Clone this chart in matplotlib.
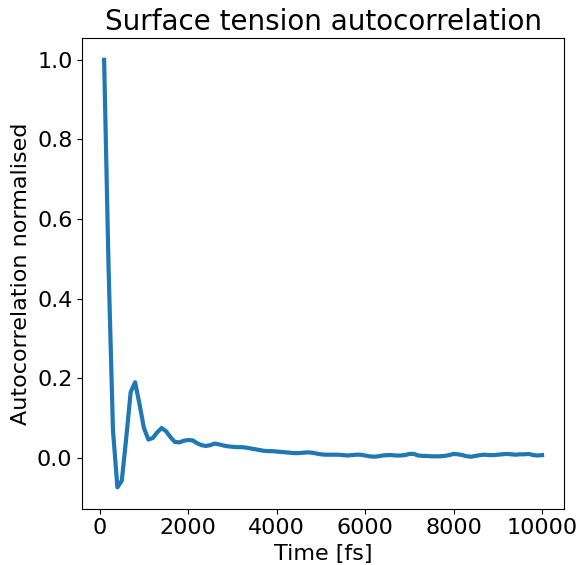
import numpy as np
import matplotlib
matplotlib.use("Agg")
import matplotlib.pyplot as plt

# ============ Data ============
time_fs = np.arange(100, 10001, 100)
acf = [1.0, 0.48, 0.07, -0.074, -0.057, 0.05, 0.165, 0.19, 0.135, 0.075,
       0.046, 0.05, 0.064, 0.075, 0.067, 0.052, 0.04, 0.039, 0.043, 0.045,
       0.044, 0.037, 0.032, 0.03, 0.032, 0.036, 0.034, 0.031, 0.029, 0.028,
       0.027, 0.027, 0.026, 0.024, 0.022, 0.020, 0.018, 0.017, 0.017, 0.016,
       0.015, 0.014, 0.013, 0.012, 0.012, 0.013, 0.014, 0.013, 0.011, 0.009,
       0.008, 0.008, 0.008, 0.008, 0.007, 0.006, 0.007, 0.008, 0.008, 0.006,
       0.004, 0.003, 0.004, 0.006, 0.007, 0.007, 0.006, 0.006, 0.007, 0.010,
       0.010, 0.006, 0.005, 0.005, 0.004, 0.004, 0.004, 0.005, 0.007, 0.010,
       0.009, 0.007, 0.004, 0.003, 0.005, 0.007, 0.008, 0.007, 0.007, 0.008,
       0.009, 0.010, 0.009, 0.008, 0.009, 0.009, 0.010, 0.007, 0.006, 0.007]

xlabel = "Time [fs]"
ylabel = "Autocorrelation normalised"
plttitle = "Surface tension autocorrelation"

# ========================================================

fig = plt.figure(figsize=(5.79, 5.65), dpi=100)
ax1 = fig.add_axes([0.142, 0.0996, 0.832, 0.8324])

ax1.plot(time_fs, acf, color="#1f77b4", linewidth=3)

ax1.set_title(plttitle, fontsize=20)
ax1.set_xlabel(xlabel, fontsize=16)
ax1.set_ylabel(ylabel, fontsize=16)
ax1.tick_params(labelsize=16)

plt.savefig("out.png", dpi=100)
